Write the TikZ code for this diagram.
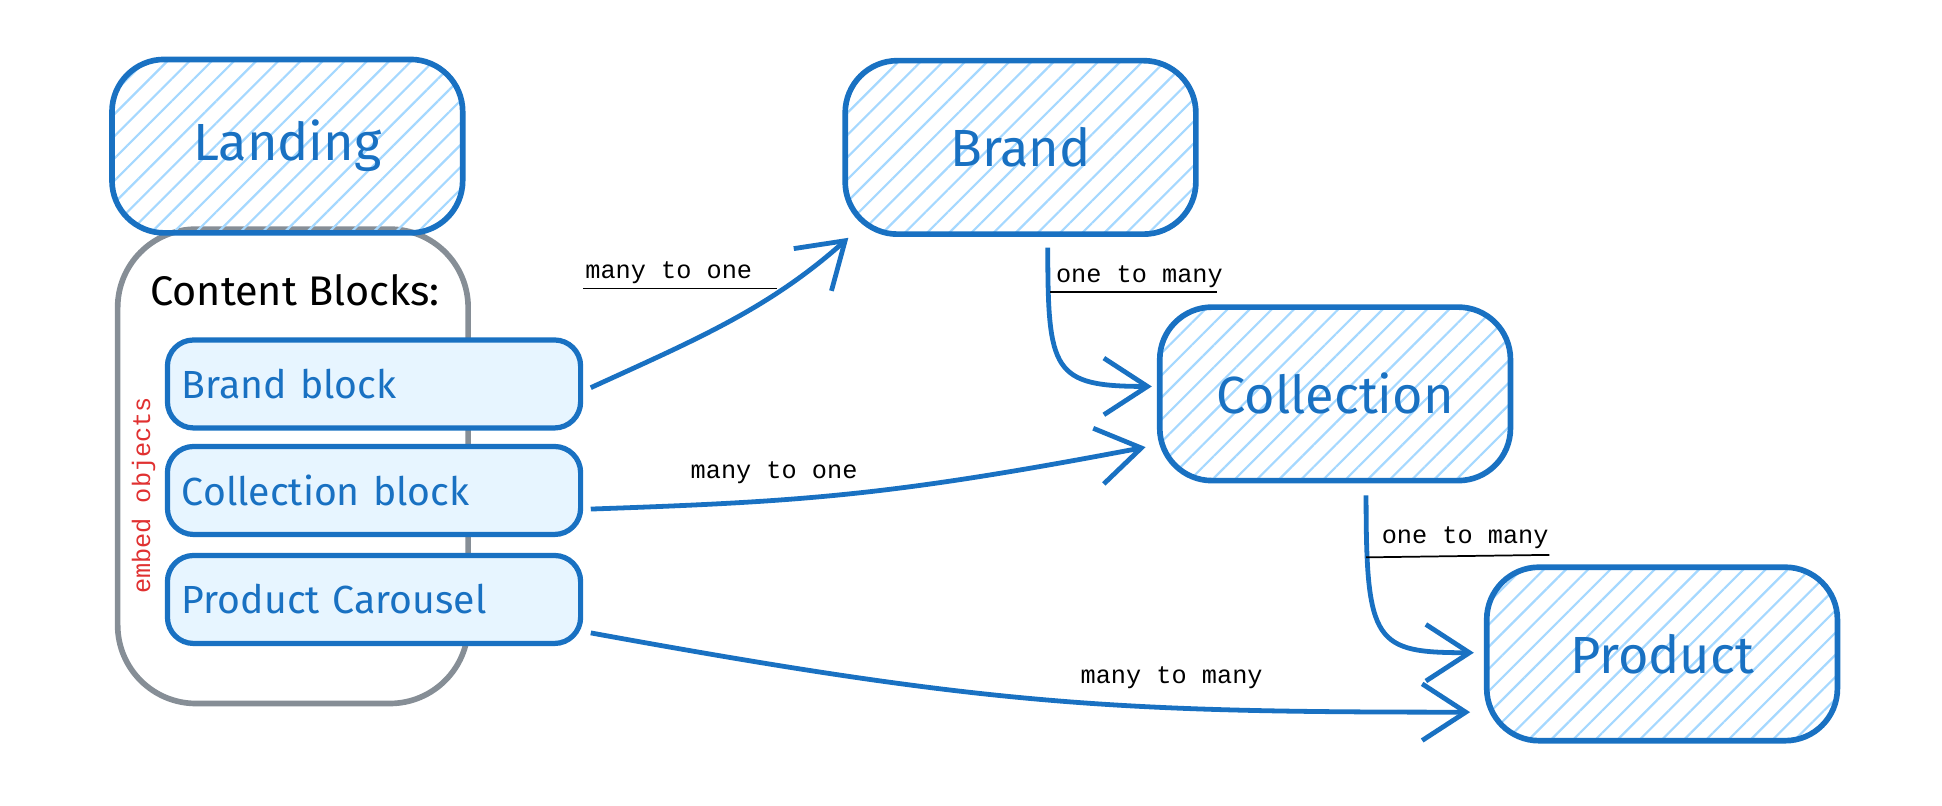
\documentclass[tikz,border=0pt]{standalone}
\usepackage{fontspec}
\setmainfont{Fira Sans}
\newfontfamily\monofont{Liberation Mono}
\usetikzlibrary{arrows.meta,patterns.meta,positioning}
\definecolor{exblue}{HTML}{1971C2}
\definecolor{exhatch}{HTML}{A5D8FF}
\definecolor{exfill}{HTML}{E7F5FF}
\definecolor{exgray}{HTML}{868E96}
\definecolor{exred}{HTML}{E03131}
\tikzset{
  entity/.style={draw=exblue,line width=1.3pt,rounded corners=12pt,
    pattern={Lines[angle=45,distance=3.6pt,line width=0.5pt]},pattern color=exhatch,
    minimum width=2.83cm,minimum height=1.4cm,text=exblue,font=\fontsize{12}{14}\selectfont},
  block/.style={draw=exblue,line width=1.2pt,rounded corners=6pt,fill=exfill,
    minimum width=3.3cm,minimum height=0.71cm,text=exblue,font=\fontsize{9}{11}\selectfont,
    text width=3.1cm,align=left},
  link/.style={exblue,line width=1.1pt,-{Straight Barb[length=10pt,width=13pt,line width=1.1pt]}},
  rel/.style={font=\monofont\fontsize{5.8}{7}\selectfont,text=black},
  under/.style={black,line width=0.4pt}
}
\begin{document}
\begin{tikzpicture}[x=0.01cm,y=-0.01cm]
	\useasboundingbox (0,0) rectangle (1568,650);

	% container
	\draw[exgray,line width=1.3pt,rounded corners=18pt] (95,185) rectangle (378,568);
	\node[font=\fontsize{9.5}{11}\selectfont] (blocks) at (238,234) {Content Blocks:};
	\node[exred,rotate=90,font=\monofont\fontsize{5.8}{7}\selectfont] (embed) at (116,400) {embed objects};

	% entities
	\node[entity] (landing) at (232,118) {Landing};
	\node[entity] (brand) at (824,119) {Brand};
	\node[entity] (collection) at (1078,318) {Collection};
	\node[entity] (product) at (1342,528) {Product};

	% blocks
	\node[block] (bblock) at (302,310) {Brand block};
	\node[block] (cblock) at (302,396) {Collection block};
	\node[block] (pblock) at (302,484) {Product Carousel};

	% free ends of the links
	\coordinate (bb) at (477,313);
	\coordinate (cb) at (477,411);
	\coordinate (pb) at (477,511);
	\coordinate (brin) at (685,192);
	\coordinate (brout) at (846,200);
	\coordinate (colin) at (930,312);
	\coordinate (colin2) at (925,361);
	\coordinate (colout) at (1103,400);
	\coordinate (prin) at (1190,527);
	\coordinate (prin2) at (1187,575);

	% links
	\draw[link] (bb) .. controls (560,275) and (620,250) .. (brin);
	\draw[link] (cb) .. controls (650,405) and (720,400) .. (colin2);
	\draw[link] (pb) .. controls (800,570) and (900,575) .. (prin2);
	\draw[link] (brout) .. controls (846,300) and (850,312) .. (colin);
	\draw[link] (colout) .. controls (1103,520) and (1110,527) .. (prin);

	% labels
	\node[rel] (l1) at (540,220) {many to one};
	\draw[under] (471,233) -- (627,233);
	\node[rel] (l2) at (625,382) {many to one};
	\node[rel] (l3) at (946,547) {many to many};
	\node[rel] (l4) at (920,223) {one to many};
	\draw[under] (848,236) -- (983,236);
	\node[rel] (l5) at (1183,434) {one to many};
	\draw[under] (1103,450) -- (1251,448);
\end{tikzpicture}
\end{document}
